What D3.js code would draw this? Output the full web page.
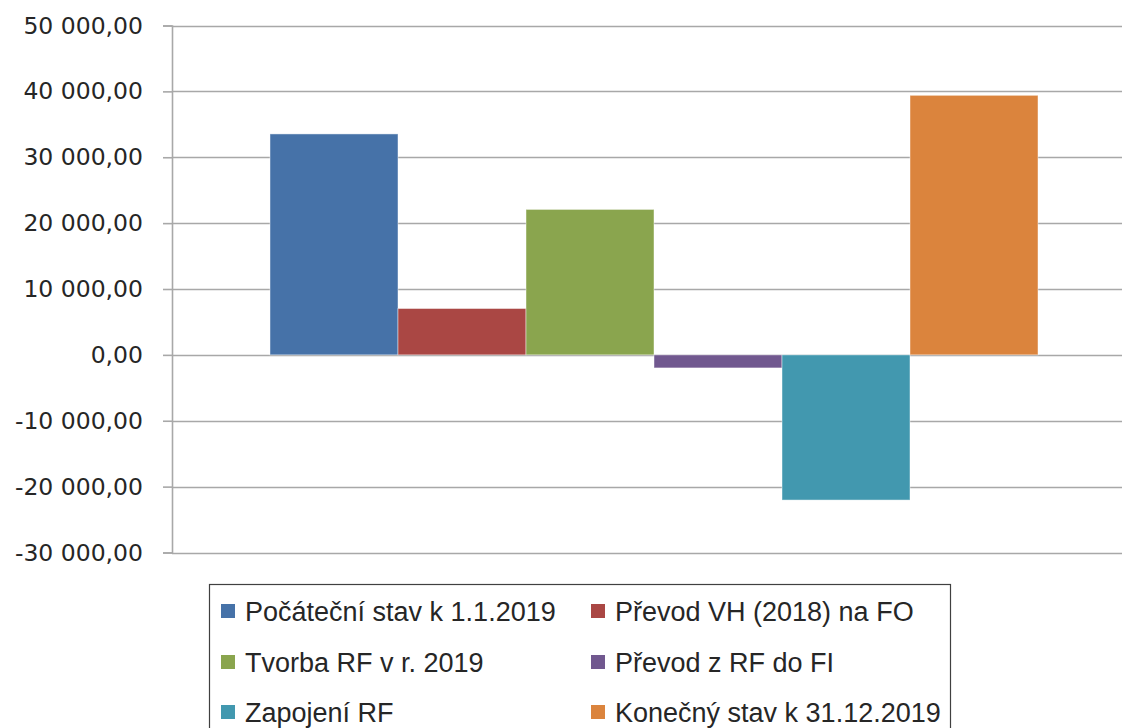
<!DOCTYPE html>
<html>
<head>
<meta charset="utf-8">
<script src="https://cdn.jsdelivr.net/npm/d3@7"></script>
<style>
  html, body { margin: 0; padding: 0; background: #fff; overflow: hidden; }
  svg { display: block; }
</style>
</head>
<body>
<svg id="chart" width="1122" height="728"></svg>
<script>
// ---- data ----
const categories = ["2019"];
const seriesNames = [
  "Počáteční stav k 1.1.2019",
  "Převod VH (2018) na FO",
  "Tvorba RF v r. 2019",
  "Převod z RF do FI",
  "Zapojení RF",
  "Konečný stav k 31.12.2019"
];
const seriesValues = [33540, 7040, 22080, -1980, -22040, 39400];
const seriesColors = ["#4672A8", "#AA4744", "#8AA54E", "#71588F", "#4298AF", "#DB843D"];
const yTicks = [-30000, -20000, -10000, 0, 10000, 20000, 30000, 40000, 50000];

// ---- layout ----
const svg = d3.select("#chart");
const plot = { left: 172, right: 1136, top: 25.5, bottom: 552.5 };

const y = d3.scaleLinear().domain([-30000, 50000]).range([plot.bottom, plot.top]);
const xCat = d3.scaleBand().domain(categories).range([plot.left, plot.right])
  .paddingInner(0).paddingOuter(0.1276);
const xSer = d3.scaleBand().domain(seriesNames).range([0, xCat.bandwidth()]).padding(0);

const fmt = v => {
  const s = d3.format(",.2f")(v).replace(/,/g, " ").replace(".", ",");
  return s.replace("−", "-");
};

// gridlines
svg.append("g")
  .selectAll("line")
  .data(yTicks)
  .join("line")
  .attr("x1", plot.left).attr("x2", plot.right)
  .attr("y1", d => Math.round(y(d)) + 0.5).attr("y2", d => Math.round(y(d)) + 0.5)
  .attr("stroke", "#a8a8a8").attr("stroke-width", 1.6);

// y axis
const yAxis = d3.axisLeft(y).tickValues(yTicks).tickSize(9).tickPadding(20).tickFormat(fmt);
const gy = svg.append("g").attr("transform", `translate(${plot.left},0)`).call(yAxis);
gy.select(".domain").attr("stroke", "#a8a8a8").attr("stroke-width", 1.6);
gy.selectAll(".tick line").attr("stroke", "#a8a8a8").attr("stroke-width", 1.6);
gy.selectAll(".tick text")
  .attr("fill", "#262626")
  .style("font-family", "'DejaVu Sans', sans-serif")
  .style("font-size", "23.5px");

// bars
const gBars = svg.append("g");
categories.forEach(cat => {
  gBars.selectAll("rect.bar")
    .data(seriesNames.map((s, i) => ({ s, v: seriesValues[i], c: seriesColors[i] })))
    .join("rect")
    .attr("class", "bar")
    .attr("x", d => xCat(cat) + xSer(d.s))
    .attr("width", xSer.bandwidth())
    .attr("y", d => y(Math.max(0, d.v)))
    .attr("height", d => Math.abs(y(d.v) - y(0)))
    .attr("fill", d => d.c)
    .attr("stroke", "rgba(255,255,255,0.45)")
    .attr("stroke-width", 1);
});

// legend
const legend = svg.append("g");
legend.append("rect")
  .attr("x", 209.5).attr("y", 584.5).attr("width", 741).attr("height", 180)
  .attr("fill", "none").attr("stroke", "#404040").attr("stroke-width", 1.2);

const colX = [221, 591];
const rowY = [611, 662, 712];
seriesNames.forEach((name, i) => {
  const col = i % 2, row = Math.floor(i / 2);
  const g = legend.append("g").attr("transform", `translate(${colX[col]},${rowY[row]})`);
  g.append("rect").attr("x", 0).attr("y", -7).attr("width", 14).attr("height", 14)
    .attr("fill", seriesColors[i]);
  g.append("text").attr("x", 24).attr("y", 0).attr("dy", "0.36em")
    .attr("fill", "#262626")
    .style("font-family", "'Liberation Sans', Arial, sans-serif")
    .style("font-size", "27px")
    .text(name);
});
</script>
</body>
</html>
